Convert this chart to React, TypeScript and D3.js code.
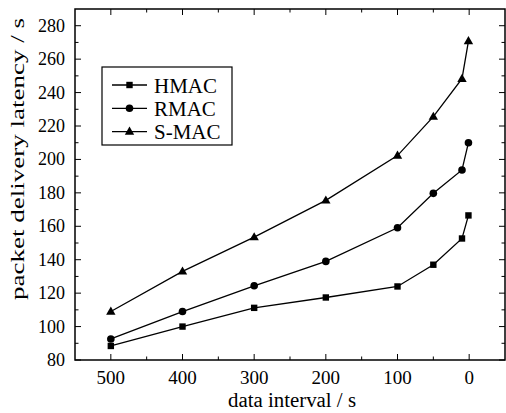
import React from "react";
import * as d3 from "d3";

const xValues = [500, 400, 300, 200, 100, 50, 10, 1];
const hmac = [88.4, 100, 111.2, 117.4, 124, 137, 152.7, 166.5];
const rmac = [92.6, 109, 124.4, 139, 159.1, 179.7, 193.7, 210];
const smac = [109, 133, 153.5, 175.5, 202.3, 225.6, 248.3, 270.8];
const seriesNames = ["HMAC", "RMAC", "S-MAC"];
const xTicks = [500, 400, 300, 200, 100, 0];
const yTicks = [80, 100, 120, 140, 160, 180, 200, 220, 240, 260, 280];
const xLabel = "data interval / s";
const yLabel = "packet delivery latency / s";

const W = 506, H = 413;
const m = { left: 75, right: 505, top: 9, bottom: 360 };
const font = "Liberation Serif, Times New Roman, serif";

export default function App() {
  const x = d3.scaleLinear().domain([550, -50]).range([m.left, m.right]);
  const y = d3.scaleLinear().domain([80, 290]).range([m.bottom, m.top]);
  const line = d3.line<[number, number]>().x(d => x(d[0])).y(d => y(d[1]));
  const data = [hmac, rmac, smac];
  const minorX = d3.range(-50, 551, 50);
  const minorY = d3.range(80, 291, 10);

  const marker = (k: number, cx: number, cy: number, key: string) => {
    if (k === 0) return <rect key={key} x={cx - 3.2} y={cy - 3.2} width={6.4} height={6.4} fill="#000" />;
    if (k === 1) return <circle key={key} cx={cx} cy={cy} r={3.8} fill="#000" />;
    return <path key={key} d={`M${cx},${cy - 5}L${cx + 4.7},${cy + 3.2}L${cx - 4.7},${cy + 3.2}Z`} fill="#000" />;
  };

  return (
    <svg width={W} height={H} style={{ position: "absolute", left: 0, top: 0, background: "#fff" }}>
      <rect x={0} y={0} width={W} height={H} fill="#fff" />
      {minorX.filter(v => !xTicks.includes(v) && x(v) > m.left && x(v) < m.right).map(v => (
        <g key={"mx" + v}>
          <line x1={x(v)} x2={x(v)} y1={m.bottom} y2={m.bottom - 3.5} stroke="#000" />
          <line x1={x(v)} x2={x(v)} y1={m.top} y2={m.top + 3.5} stroke="#000" />
        </g>
      ))}
      {minorY.filter(v => !yTicks.includes(v) && y(v) > m.top).map(v => (
        <g key={"my" + v}>
          <line x1={m.left} x2={m.left + 3.5} y1={y(v)} y2={y(v)} stroke="#000" />
          <line x1={m.right} x2={m.right - 3.5} y1={y(v)} y2={y(v)} stroke="#000" />
        </g>
      ))}
      {xTicks.map(v => (
        <g key={"x" + v}>
          <line x1={x(v)} x2={x(v)} y1={m.bottom} y2={m.bottom - 6} stroke="#000" />
          <line x1={x(v)} x2={x(v)} y1={m.top} y2={m.top + 6} stroke="#000" />
          <text x={x(v)} y={384} textAnchor="middle" fontFamily={font} fontSize={19}>{v}</text>
        </g>
      ))}
      {yTicks.map(v => (
        <g key={"y" + v}>
          <line x1={m.left} x2={m.left + 6} y1={y(v)} y2={y(v)} stroke="#000" />
          <line x1={m.right} x2={m.right - 6} y1={y(v)} y2={y(v)} stroke="#000" />
          <text x={65} y={y(v) + 6} textAnchor="end" fontFamily={font} fontSize={18}>{v}</text>
        </g>
      ))}
      <rect x={m.left} y={m.top} width={m.right - m.left} height={m.bottom - m.top} fill="none" stroke="#000" strokeWidth={1.5} />
      {data.map((s, k) => {
        const pts = xValues.map((xv, i) => [xv, s[i]] as [number, number]);
        return (
          <g key={"s" + k}>
            <path d={line(pts) || ""} fill="none" stroke="#000" strokeWidth={1.3} />
            {pts.map((p, i) => marker(k, x(p[0]), y(p[1]), `m${k}-${i}`))}
          </g>
        );
      })}
      <rect x={102} y={67} width={130} height={78} fill="#fff" stroke="#000" strokeWidth={1.2} />
      {seriesNames.map((n, k) => {
        const ly = 85 + k * 23.3;
        return (
          <g key={"l" + k}>
            <line x1={112} x2={147} y1={ly} y2={ly} stroke="#000" strokeWidth={1.3} />
            {marker(k, 129.5, ly, "lm" + k)}
            <text x={154} y={ly + 7.5} fontFamily={font} fontSize={21}>{n}</text>
          </g>
        );
      })}
      <text x={292} y={407} textAnchor="middle" fontFamily={font} fontSize={20} textLength={128} lengthAdjust="spacingAndGlyphs">{xLabel}</text>
      <text transform={`translate(24,159) rotate(-90)`} textAnchor="middle" fontFamily={font} fontSize={19} textLength={282} lengthAdjust="spacingAndGlyphs">{yLabel}</text>
    </svg>
  );
}
